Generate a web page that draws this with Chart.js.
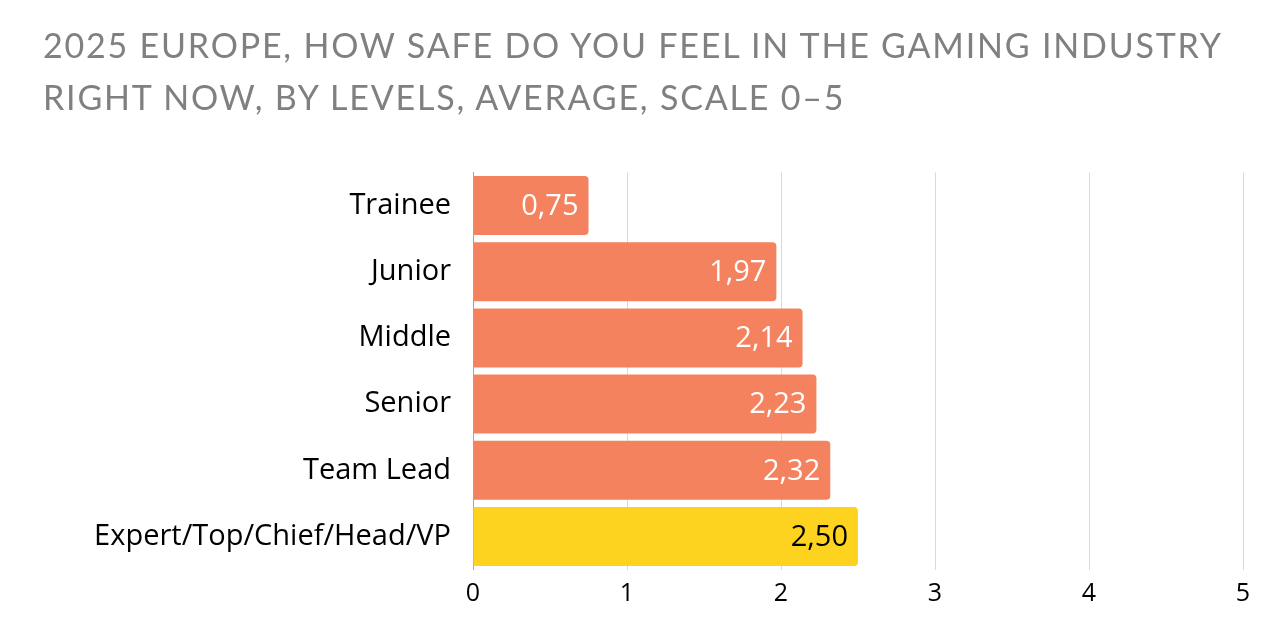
<!DOCTYPE html>
<html>
<head>
<meta charset="utf-8">
<script src="https://cdn.jsdelivr.net/npm/chart.js@4"></script>
<style>
html,body{margin:0;padding:0;background:#fff;}
#wrap{width:1288px;height:626px;position:relative;overflow:hidden;}
#title{position:absolute;left:43px;top:19px;font-family:Lato,sans-serif;font-size:34px;line-height:52px;letter-spacing:1.8px;color:#808080;white-space:nowrap;}
#c{position:absolute;left:0;top:0;}
</style>
</head>
<body>
<div id="wrap">
<canvas id="c" width="1288" height="626"></canvas>
<div id="title"></div>
</div>
<script>
const titleLines = ["2025 EUROPE, HOW SAFE DO YOU FEEL IN THE GAMING INDUSTRY", "RIGHT NOW, BY LEVELS, AVERAGE, SCALE 0–5"];
const categories = ["Trainee", "Junior", "Middle", "Senior", "Team Lead", "Expert/Top/Chief/Head/VP"];
const values = [0.75, 1.97, 2.14, 2.23, 2.32, 2.50];
const xTicks = [0, 1, 2, 3, 4, 5];

const titleEl = document.getElementById("title");
titleLines.forEach((t, i) => {
  if (i) titleEl.appendChild(document.createElement("br"));
  titleEl.appendChild(document.createTextNode(t));
});

const ORANGE = "#F4825E", YELLOW = "#FED320";
const barColors = categories.map((c, i) => i === categories.length - 1 ? YELLOW : ORANGE);
const labelColors = categories.map((c, i) => i === categories.length - 1 ? "#000000" : "#ffffff");

const valueLabels = {
  id: "valueLabels",
  afterDatasetsDraw(chart) {
    const ctx = chart.ctx;
    const meta = chart.getDatasetMeta(0);
    ctx.save();
    ctx.font = "29px 'Open Sans'";
    ctx.textAlign = "right";
    ctx.textBaseline = "middle";
    meta.data.forEach((bar, i) => {
      ctx.fillStyle = labelColors[i];
      ctx.fillText(values[i].toFixed(2).replace(".", ","), bar.x - 10, bar.y + 1);
    });
    ctx.restore();
  }
};

new Chart(document.getElementById("c"), {
  type: "bar",
  data: {
    labels: categories,
    datasets: [{
      data: values,
      backgroundColor: barColors,
      borderRadius: 4,
      borderSkipped: "start",
      barPercentage: 0.892,
      categoryPercentage: 1.0
    }]
  },
  options: {
    indexAxis: "y",
    responsive: false,
    animation: false,
    devicePixelRatio: 1,
    layout: { padding: { left: 0, right: 45, top: 172.5, bottom: 0 } },
    plugins: {
      legend: { display: false },
      tooltip: { enabled: false },
      title: { display: false }
    },
    scales: {
      x: {
        min: 0, max: 5,
        afterBuildTicks(scale) { scale.ticks = xTicks.map(v => ({ value: v })); },
        afterFit(scale) { scale.height = 56.5; },
        ticks: { color: "#000", font: { family: "Open Sans", size: 25 }, padding: 9 },
        grid: { color: "#d9d9d9", lineWidth: 1, drawTicks: false },
        border: { display: false }
      },
      y: {
        afterFit(scale) { scale.width = 473; },
        ticks: { color: "#000", font: { family: "Open Sans", size: 29 }, padding: 14 },
        grid: { display: false },
        border: { display: true, color: "#a6a6a6", width: 1 }
      }
    }
  },
  plugins: [valueLabels]
});
</script>
</body>
</html>
